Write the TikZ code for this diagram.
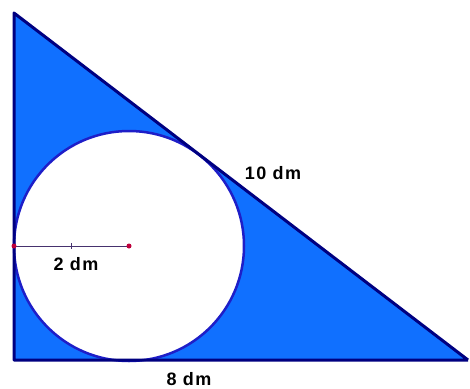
\documentclass[tikz,border=0pt]{standalone}
\usepackage{fontspec}
\setmainfont{Liberation Sans}
\newfontfamily\lblfont[LetterSpace=8]{Liberation Sans}
\definecolor{fillblue}{RGB}{16,112,255}
\definecolor{edgenavy}{RGB}{0,0,128}
\definecolor{circblue}{RGB}{30,30,200}
\definecolor{radline}{RGB}{70,50,110}
\definecolor{dotred}{RGB}{190,0,60}
\tikzset{
  lbl/.style={font=\lblfont\bfseries\fontsize{18}{18}\selectfont, text=black, inner sep=0pt},
  edge/.style={draw=edgenavy, line width=3pt, line join=round},
}
\begin{document}
\begin{tikzpicture}[x=1pt,y=-1pt]
\useasboundingbox (0,0) rectangle (470,388);
\coordinate (A) at (14,13);
\coordinate (B) at (14,360);
\coordinate (C) at (468,360);
\coordinate (O) at (129,246);
\coordinate (L) at (14,246);
\fill[fillblue] (A) -- (B) -- (C) -- cycle;
\fill[white] (O) circle (115);
\draw[draw=circblue, line width=2.5pt] (O) circle (115);
\draw[edge] (C) -- (A) -- (B) -- (C);
\draw[radline, line width=1pt] (L) -- (O);
\draw[radline, line width=0.6pt] (71.5,243) -- (71.5,249);
\fill[dotred] (L) circle (2.5);
\fill[dotred] (O) circle (2.5);
\node[lbl] (h) at (273,173) {10 dm};
\node[lbl] (r) at (76,264) {2 dm};
\node[lbl] (b) at (189,379) {8 dm};
\end{tikzpicture}
\end{document}
